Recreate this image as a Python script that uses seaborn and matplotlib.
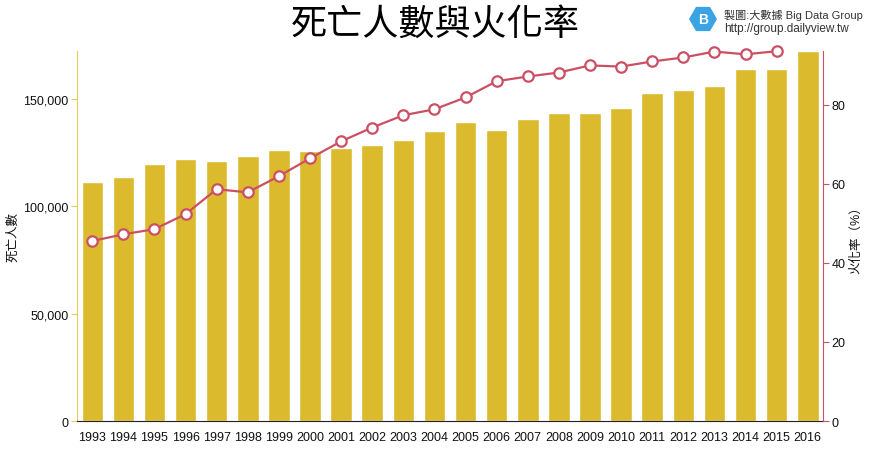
import matplotlib
matplotlib.use("Agg")
import matplotlib.pyplot as plt
import matplotlib.ticker as mticker
from matplotlib.patches import RegularPolygon
import numpy as np
import pandas as pd
import seaborn as sns

years = [str(y) for y in range(1993, 2017)]
deaths = [111200, 113600, 119500, 121900, 120900, 123300, 126400, 126000,
          127400, 128500, 130700, 134900, 139300, 135800, 140900, 143600,
          143400, 145700, 152900, 154200, 155900, 163800, 163800, 172300]
cremation = [45.5, 47.2, 48.5, 52.3, 58.6, 57.8, 61.9, 66.4,
             70.7, 74.2, 77.3, 78.8, 81.8, 85.9, 87.1, 88.1,
             89.9, 89.6, 90.9, 91.9, 93.4, 92.7, 93.5, np.nan]

bar_color = "#dcba2d"
line_color = "#cc5064"
left_color = "#e2cc5a"

df = pd.DataFrame({"year": years, "deaths": deaths, "rate": cremation})
df["pos"] = range(len(df))

sns.set_style("white")
plt.rcParams["font.family"] = ["Liberation Sans", "Noto Sans CJK TC"]
plt.rcParams["text.color"] = "#111111"
plt.rcParams["axes.labelcolor"] = "#111111"
plt.rcParams["xtick.labelcolor"] = "#111111"
plt.rcParams["ytick.labelcolor"] = "#111111"

fig = plt.figure(figsize=(8.7, 4.6), dpi=100)
ax = fig.add_axes([0.0885, 0.0826, 0.8575, 0.804])

sns.barplot(data=df, x="year", y="deaths", color=bar_color, saturation=1,
            width=0.69, ax=ax)
ax.set_xlim(-0.49, len(years) - 0.51)
ax.set_ylim(0, max(deaths))
ax.yaxis.set_major_locator(mticker.MultipleLocator(50000))
ax.yaxis.set_major_formatter(mticker.FuncFormatter(lambda v, p: f"{v:,.0f}"))
ax.set_xlabel("")
ax.set_ylabel("死亡人數", fontsize=9, labelpad=3)

ax2 = ax.twinx()
sns.lineplot(data=df.dropna(), x="pos", y="rate", ax=ax2, color=line_color,
             linewidth=1.6, marker="o", markersize=7.5, markerfacecolor="white",
             markeredgecolor=line_color, markeredgewidth=1.6, clip_on=False)
ax2.set_ylim(0, np.nanmax(cremation))
ax2.yaxis.set_major_locator(mticker.MultipleLocator(20))
ax2.set_ylabel("火化率（%）", fontsize=9, labelpad=3)
ax2.set_xlabel("")

for a in (ax, ax2):
    for s in a.spines.values():
        s.set_visible(False)
    a.grid(False)

ax.spines["left"].set_visible(True)
ax.spines["left"].set_color(left_color)
ax.spines["bottom"].set_visible(True)
ax.spines["bottom"].set_color("#222222")
ax2.spines["right"].set_visible(True)
ax2.spines["right"].set_color(line_color)

ax.tick_params(axis="x", length=5, width=0.8, color="#222222", labelsize=9, pad=2)
ax.tick_params(axis="y", length=4, width=0.8, color=left_color, labelsize=9,
               left=True, pad=2)
ax2.tick_params(axis="y", length=4, width=0.8, color=line_color, labelsize=9,
                right=True, pad=2)

fig.text(0.5, 0.945, "死亡人數與火化率", ha="center", va="center",
         fontsize=26, family=["Noto Sans CJK TC"], color="black")

# logo
hexagon = RegularPolygon((7.03, 4.40), numVertices=6, radius=0.14,
                         orientation=np.pi / 6, transform=fig.dpi_scale_trans,
                         facecolor="#3aa3e3", edgecolor="none")
fig.patches.append(hexagon)
fig.text(7.03, 4.40, "B", ha="center", va="center", color="white",
         fontsize=10, weight="bold", transform=fig.dpi_scale_trans)
fig.text(7.24, 4.45, "製圖:大數據 Big Data Group", ha="left", va="center",
         fontsize=8, color="#333333", transform=fig.dpi_scale_trans)
fig.text(7.24, 4.31, "http://group.dailyview.tw", ha="left", va="center",
         fontsize=8.5, color="#333333", transform=fig.dpi_scale_trans)

fig.savefig("out.png", dpi=100, facecolor="white")
